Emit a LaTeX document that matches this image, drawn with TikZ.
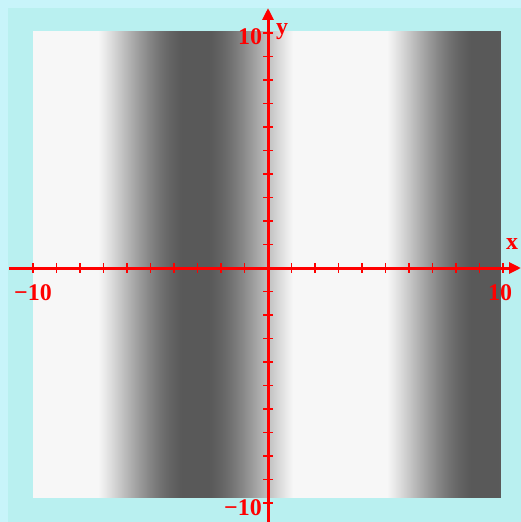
\documentclass[tikz,border=0pt]{standalone}
\usepackage{fontspec}
\setmainfont{Liberation Serif}
\usetikzlibrary{arrows.meta}
\definecolor{bgouter}{HTML}{C8F4FA}
\definecolor{bginner}{HTML}{B9F0F0}
\definecolor{axred}{HTML}{FF0000}
\begin{document}
\begin{tikzpicture}[x=1bp,y=-1bp,
  axis/.style={axred,line width=3bp},
  tick/.style={axred,line width=1.8bp},
  lab/.style={text=axred,font=\bfseries\fontsize{24}{24}\selectfont,inner sep=0pt}]
\useasboundingbox (0,0) rectangle (521,522);
\fill[bgouter] (0,0) rectangle (521,522);
\fill[bginner] (8,8) rectangle (521,522);
\foreach \p in {33,34,...,500}{
  \pgfmathsetmacro\v{max(3,min(65,25-42*cos(1.24567*(\p-340))))}
  \fill[black!\v] (\p,31) rectangle ({min(\p+1.3,501)},498);
}
\coordinate (O) at (268,268);
\coordinate (xl) at (9,268);
\coordinate (xr) at (521,268);
\coordinate (yt) at (268,8);
\coordinate (yb) at (268,522);
\foreach \k in {-10,...,-1,1,2,...,10}{
  \draw[tick] ({268+\k*23.5},263) -- ({268+\k*23.5},273);
  \draw[tick] (263,{268+\k*23.5}) -- (273,{268+\k*23.5});
}
\draw[axis,-{Triangle[length=12bp,width=11bp]}] (xl) -- (xr);
\draw[axis,-{Triangle[length=12bp,width=11bp]}] (yb) -- (yt);
\node[lab,anchor=base] (ytop) at (250,45) {10};
\node[lab] (ylab) at (282,32) {y};
\node[lab,anchor=base] (ybot) at (243,515) {−10};
\node[lab,anchor=base] (xleft) at (33,300) {−10};
\node[lab,anchor=base] (xright) at (500,300) {10};
\node[lab] (xlab) at (512,244) {x};
\end{tikzpicture}
\end{document}
